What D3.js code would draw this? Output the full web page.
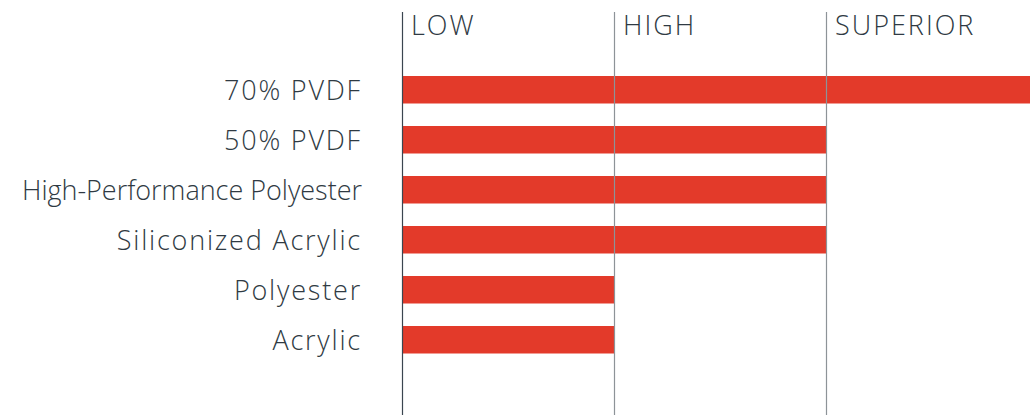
<!DOCTYPE html>
<html>
<head>
	<title>Coating durability</title>
	<style type="text/css">
		body { margin: 0; background: #fff; }
		svg text { font-family: "Open Sans", "Lato", sans-serif; fill: #2f3a43; }
	</style>
</head>
<body>
	<script src="https://d3js.org/d3.v7.min.js"></script>
	<script type="text/javascript">
		// chart data
		const categories = ['70% PVDF', '50% PVDF', 'High-Performance Polyester', 'Siliconized Acrylic', 'Polyester', 'Acrylic'];
		const values = [3, 2, 2, 2, 1, 1];
		const levels = ['LOW', 'HIGH', 'SUPERIOR'];

		const w = 1030;
		const h = 415;
		const labelRight = 362;
		const labelMax = 340; // widest label gets squeezed to this

		const svg = d3.select('body').append('svg')
			.attr('width', w)
			.attr('height', h);

		const x = d3.scaleLinear().domain([0, 3]).range([402, 1038]);
		const y = d3.scaleBand().domain(categories).range([64.75, 364.75])
			.paddingInner(0.45).paddingOuter(0.225);

		// bars
		svg.selectAll('rect.bar')
			.data(values)
			.enter()
			.append('rect')
			.attr('class', 'bar')
			.attr('x', x(0))
			.attr('y', (_, i) => y(categories[i]))
			.attr('width', d => x(d) - x(0))
			.attr('height', y.bandwidth())
			.attr('fill', '#e33a2a');

		// level lines, first one is the axis
		svg.selectAll('line.level')
			.data(levels)
			.enter()
			.append('line')
			.attr('class', 'level')
			.attr('x1', (_, i) => x(i) + 0.5)
			.attr('x2', (_, i) => x(i) + 0.5)
			.attr('y1', 12)
			.attr('y2', h)
			.attr('stroke', (_, i) => i === 0 ? '#3b4550' : '#8d9398')
			.attr('stroke-width', 1.2);

		// level headers
		svg.selectAll('text.level')
			.data(levels)
			.enter()
			.append('text')
			.attr('class', 'level')
			.attr('x', (_, i) => x(i) + 9)
			.attr('y', 35)
			.style('font-size', '27px')
			.style('font-weight', 300)
			.style('letter-spacing', '2px')
			.text(d => d);

		// category labels
		svg.selectAll('text.cat')
			.data(categories)
			.enter()
			.append('text')
			.attr('class', 'cat')
			.attr('x', labelRight)
			.attr('y', d => y(d) + y.bandwidth() / 2 + 10)
			.attr('text-anchor', 'end')
			.style('font-size', '27px')
			.style('font-weight', 300)
			.style('letter-spacing', '1.8px')
			.text(d => d)
			.each(function() {
				if (this.getComputedTextLength() > labelMax) {
					d3.select(this)
						.style('letter-spacing', '0px')
						.attr('textLength', labelMax)
						.attr('lengthAdjust', 'spacingAndGlyphs');
				}
			});
	</script>
</body>
</html>
